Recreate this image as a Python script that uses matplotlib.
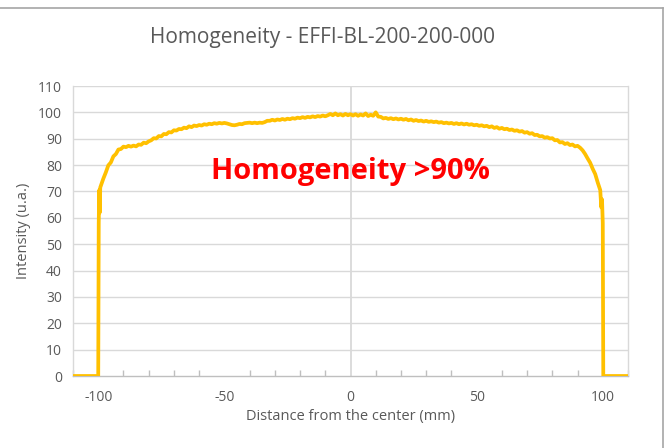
import numpy as np
import matplotlib
matplotlib.use("Agg")
import matplotlib.pyplot as plt
from matplotlib.lines import Line2D

plt.rcParams['font.family'] = ['Open Sans', 'DejaVu Sans']
plt.rcParams['axes.unicode_minus'] = False

# Edge points (steep rise / fall)
left_x = [-110, -100.0, -99.8, -99.6, -99.4, -99.2]
left_y = [0, 0, 58, 70.5, 62, 71.5]

mid_x = list(range(-98, 99))
mid_y = [
    74.8, 77.2, 79.9, 81.0, 83.3, 84.2, 85.9, 86.1, 87.0, 86.8,   # -98..-89
    87.3, 87.0, 87.4, 87.1, 87.8, 87.7, 88.5, 88.3, 89.0, 89.4,   # -88..-79
    90.2, 90.1, 91.0, 90.9, 91.8, 91.7, 92.5, 92.4, 93.2, 93.1,   # -78..-69
    93.7, 93.6, 94.2, 94.0, 94.7, 94.4, 95.0, 94.8, 95.2, 95.0,   # -68..-59
    95.5, 95.3, 95.7, 95.5, 95.9, 95.7, 96.0, 95.8, 96.0, 95.8,   # -58..-49
    95.5, 95.2, 95.1, 95.3, 95.6, 95.5, 95.9, 96.0, 96.1, 95.9,   # -48..-39
    96.1, 95.9, 96.1, 96.0, 96.3, 96.8, 96.8, 97.2, 96.9, 97.3,   # -38..-29
    97.1, 97.5, 97.2, 97.6, 97.4, 97.8, 97.6, 98.0, 97.8, 98.2,   # -28..-19
    97.9, 98.3, 98.1, 98.5, 98.2, 98.6, 98.4, 98.8, 98.5, 98.9,   # -18..-9
    99.4, 98.9, 99.6, 98.9, 99.3, 98.8, 99.4, 98.9, 99.3, 98.8,   # -8..1
    99.3, 98.7, 99.2, 98.8, 99.6, 98.6, 99.1, 98.7, 100.0, 98.4,  # 2..11
    98.3, 97.7, 97.9, 97.5, 97.8, 97.4, 97.7, 97.3, 97.6, 97.2,   # 12..21
    97.5, 97.0, 97.3, 96.8, 97.1, 96.7, 96.9, 96.5, 96.8, 96.4,   # 22..31
    96.6, 96.3, 96.5, 96.1, 96.3, 95.9, 96.1, 95.8, 96.0, 95.6,   # 32..41
    95.9, 95.5, 95.8, 95.4, 95.7, 95.3, 95.5, 95.1, 95.3, 94.9,   # 42..51
    95.1, 94.7, 94.9, 94.4, 94.7, 94.1, 94.4, 93.8, 94.1, 93.6,   # 52..61
    93.8, 93.3, 93.5, 93.0, 93.2, 92.7, 92.9, 92.3, 92.5, 91.9,   # 62..71
    92.1, 91.4, 91.5, 90.9, 91.0, 90.4, 90.6, 90.1, 90.2, 89.4,   # 72..81
    89.5, 88.6, 88.7, 88.0, 88.3, 87.6, 87.8, 87.1, 87.3, 86.6,   # 82..91
    85.6, 84.2, 82.5, 80.9, 78.6, 76.6, 73.4                      # 92..98
]

right_x = [99.0, 99.4, 99.7, 100.0, 100.2, 110]
right_y = [70.5, 64.0, 67.0, 58.0, 0, 0]

x = np.array(left_x + mid_x + right_x, dtype=float)
y = np.array(left_y + mid_y + right_y, dtype=float)

x_ticks = [-100, -50, 0, 50, 100]
y_ticks = list(range(0, 111, 10))

fig = plt.figure(figsize=(6.67, 4.48), dpi=100)
ax = fig.add_axes([73/667, 72/448, (628-73)/667, (376-86)/448])

grid_c = '#d9d9d9'
for yt in y_ticks[1:]:
    ax.axhline(yt, color=grid_c, lw=1.0, zorder=1)
ax.axvline(0, color=grid_c, lw=1.3, zorder=1)

ax.plot(x, y, color='#ffc000', lw=2.7, zorder=3, solid_joinstyle='round')

ax.set_xlim(-110, 110)
ax.set_ylim(0, 110)
ax.set_xticks(x_ticks)
ax.set_xticks(np.arange(-110, 111, 10), minor=True)
ax.set_yticks(y_ticks)

for s in ['left', 'right', 'top']:
    ax.spines[s].set_color(grid_c)
    ax.spines[s].set_linewidth(1.0)
ax.spines['top'].set_visible(False)
ax.spines['bottom'].set_color('#bfbfbf')
ax.spines['bottom'].set_linewidth(1.0)

ax.tick_params(axis='x', which='major', length=0, colors='#bfbfbf', labelcolor='#595959', labelsize=10, pad=10)
ax.tick_params(axis='x', which='minor', length=4, direction='in', colors='#bfbfbf', width=1)
ax.tick_params(axis='y', length=0, labelcolor='#595959', labelsize=10, pad=8)

ax.set_xlabel('Distance from the center (mm)', color='#595959', fontsize=10.5, labelpad=3)
ax.set_ylabel('Intensity (u.a.)', color='#595959', fontsize=10.5, labelpad=5)

ax.text(0, 77.4, 'Homogeneity >90%', color='#ff0000', fontsize=21, fontweight='bold',
        ha='center', va='center', zorder=4)

fig.text(322/667, 1 - 38/448, 'Homogeneity - EFFI-BL-200-200-000', color='#595959',
         fontsize=15, ha='center', va='center')

# outer chart border (top and right visible in reference)
fig.add_artist(Line2D([0, 663/667], [1 - 8/448, 1 - 8/448], transform=fig.transFigure, color='#a6a6a6', lw=1.2))
fig.add_artist(Line2D([663/667, 663/667], [1 - 8/448, 0], transform=fig.transFigure, color='#a6a6a6', lw=1.2))

fig.savefig('out.png', dpi=100)
